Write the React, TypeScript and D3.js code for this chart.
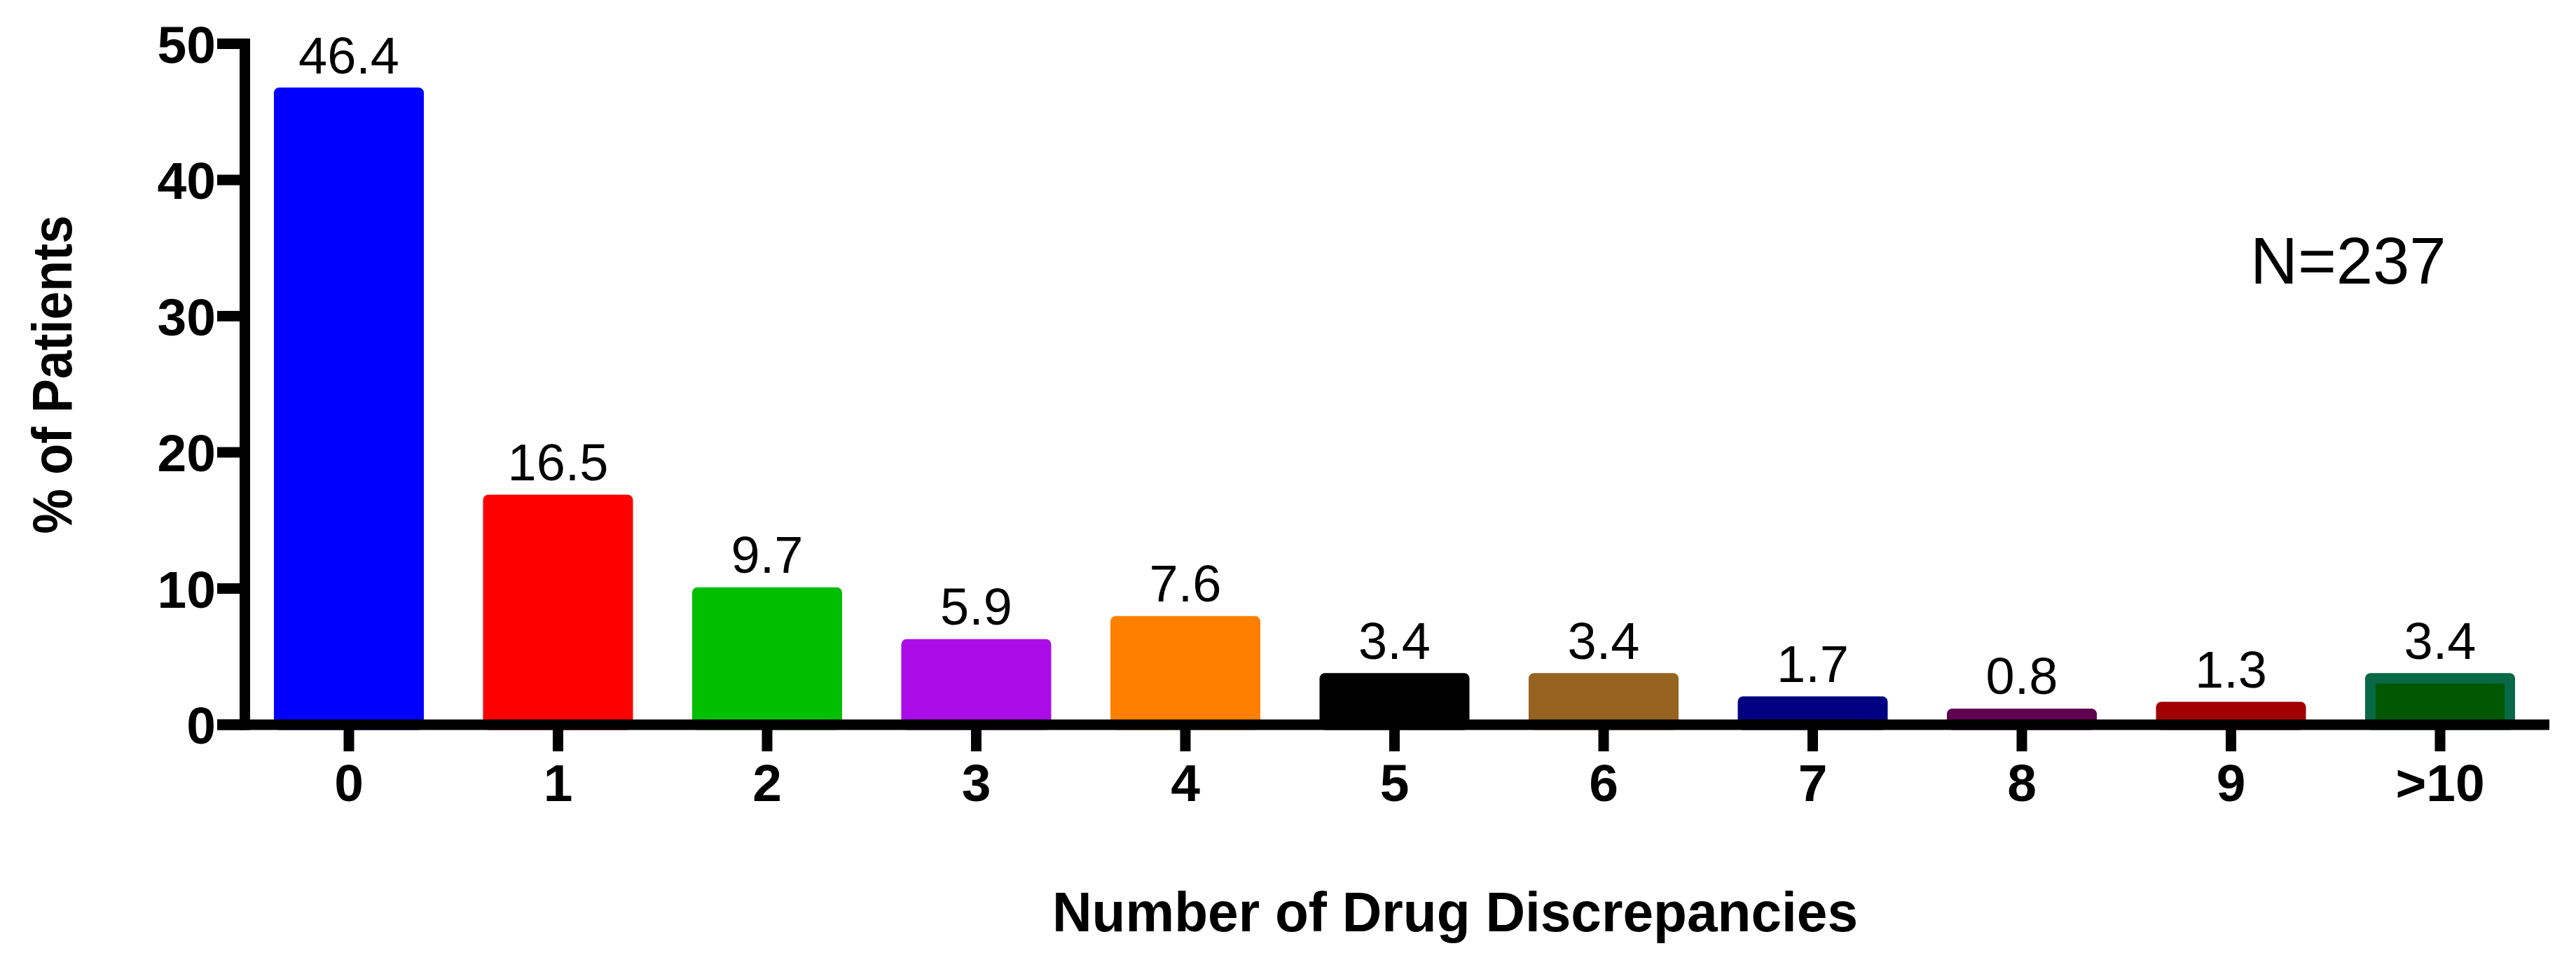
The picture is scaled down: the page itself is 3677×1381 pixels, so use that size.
import React from "react";
import * as d3 from "d3";

const categories = ["0", "1", "2", "3", "4", "5", "6", "7", "8", "9", ">10"];
const percentages = [46.4, 16.5, 9.7, 5.9, 7.6, 3.4, 3.4, 1.7, 0.8, 1.3, 3.4];
const fillColors = ["#0000FF", "#FF0000", "#00BF00", "#AA0DE8", "#FF8000", "#000000", "#976320", "#000080", "#600050", "#A00000", "#015801"];
const strokeColors = ["#0000FF", "#FF0000", "#00BF00", "#AA0DE8", "#FF8000", "#000000", "#976320", "#000080", "#600050", "#A00000", "#076945"];
const yTicks = [0, 10, 20, 30, 40, 50];
const yTitle = "% of Patients";
const xTitle = "Number of Drug Discrepancies";
const annotation = "N=237";

const W = 3677;
const H = 1381;
const FONT = "'Liberation Sans', Arial, sans-serif";

export default function App() {
  const x = d3.scalePoint<string>().domain(categories).range([498, 3483]);
  const y = d3.scaleLinear().domain([0, 50]).range([1035, 62.5]);
  const barW = x.step() * (2 / 3);
  const sw = 15;
  const axisX = 349.5;
  const axisY = y(0);

  return (
    <svg width={W} height={H} viewBox={`0 0 ${W} ${H}`} style={{ position: "absolute", left: 0, top: 0, background: "#fff" }}>
      <rect x={0} y={0} width={W} height={H} fill="#fff" />
      {/* bars */}
      {percentages.map((v, i) => {
        const cx = x(categories[i]) as number;
        const top = y(v);
        return (
          <rect
            key={"b" + i}
            x={cx - barW / 2}
            y={top}
            width={barW}
            height={axisY - top}
            fill={fillColors[i]}
            stroke={strokeColors[i]}
            strokeWidth={sw}
            strokeLinejoin="round"
          />
        );
      })}
      {/* value labels */}
      {percentages.map((v, i) => (
        <text
          key={"v" + i}
          x={x(categories[i]) as number}
          y={y(v) - 28}
          textAnchor="middle"
          fontFamily={FONT}
          fontSize={74}
          fill="#000"
        >
          {v.toFixed(1)}
        </text>
      ))}
      {/* y axis */}
      <line x1={axisX} y1={y(50) - 7.5} x2={axisX} y2={axisY + 7.5} stroke="#000" strokeWidth={15} />
      {yTicks.map((t) => (
        <g key={"yt" + t}>
          <line x1={310} y1={y(t)} x2={axisX} y2={y(t)} stroke="#000" strokeWidth={15} />
          <text
            x={308}
            y={y(t) + 27}
            textAnchor="end"
            fontFamily={FONT}
            fontWeight="bold"
            fontSize={75}
            fill="#000"
          >
            {t}
          </text>
        </g>
      ))}
      {/* x axis */}
      <line x1={310} y1={axisY} x2={3639} y2={axisY} stroke="#000" strokeWidth={15} />
      {categories.map((c) => (
        <g key={"xt" + c}>
          <line x1={x(c) as number} y1={axisY} x2={x(c) as number} y2={1073} stroke="#000" strokeWidth={15} />
          <text
            x={x(c) as number}
            y={1144}
            textAnchor="middle"
            fontFamily={FONT}
            fontWeight="bold"
            fontSize={75}
            fill="#000"
          >
            {c}
          </text>
        </g>
      ))}
      {/* axis titles */}
      <text
        x={2077}
        y={1330}
        textAnchor="middle"
        fontFamily={FONT}
        fontWeight="bold"
        fontSize={79}
        fill="#000"
        textLength={1150}
        lengthAdjust="spacingAndGlyphs"
      >
        {xTitle}
      </text>
      <text
        transform="translate(102,535) rotate(-90)"
        textAnchor="middle"
        fontFamily={FONT}
        fontWeight="bold"
        fontSize={79}
        fill="#000"
        textLength={455}
        lengthAdjust="spacingAndGlyphs"
      >
        {yTitle}
      </text>
      {/* annotation */}
      <text x={3212} y={405} fontFamily={FONT} fontSize={94} fill="#000">
        {annotation}
      </text>
    </svg>
  );
}
